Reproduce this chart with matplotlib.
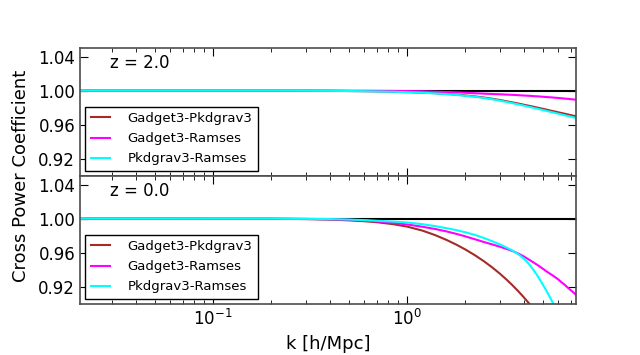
import matplotlib
matplotlib.use("Agg")
import matplotlib.pyplot as plt

k = [0.02, 0.05, 0.1, 0.15, 0.2, 0.3, 0.4, 0.5, 0.6, 0.7,
     0.85, 1.0, 1.2, 1.4, 1.6, 1.8, 2.0, 2.25, 2.5, 2.75,
     3.0, 3.25, 3.5, 3.75, 4.0, 4.25, 4.5, 4.75, 5.0, 5.25,
     5.5, 5.75, 6.0, 6.25, 6.5, 6.75, 7.0, 7.25, 7.5]

# z = 2.0
g_p_z2 = [1.0, 1.0, 1.0, 1.0, 1.0, 0.9999, 0.9998, 0.9996, 0.9994, 0.9992,
          0.9988, 0.9983, 0.9977, 0.9970, 0.9962, 0.9953, 0.9944, 0.9932, 0.9919, 0.9905,
          0.9891, 0.9876, 0.9862, 0.9849, 0.9835, 0.9823, 0.9811, 0.9799, 0.9788, 0.9777,
          0.9766, 0.9757, 0.9747, 0.9738, 0.9730, 0.9721, 0.9713, 0.9705, 0.9698]
g_r_z2 = [1.0, 1.0, 1.0, 1.0, 1.0, 1.0, 1.0, 0.9999, 0.9999, 0.9998,
          0.9997, 0.9995, 0.9992, 0.9988, 0.9984, 0.9980, 0.9975, 0.9970, 0.9965, 0.9961,
          0.9958, 0.9954, 0.9951, 0.9947, 0.9943, 0.9940, 0.9936, 0.9933, 0.9929, 0.9925,
          0.9922, 0.9918, 0.9915, 0.9911, 0.9907, 0.9904, 0.9900, 0.9897, 0.9893]
p_r_z2 = [1.0, 1.0, 1.0, 1.0, 1.0, 0.9999, 0.9998, 0.9996, 0.9994, 0.9991,
          0.9987, 0.9982, 0.9976, 0.9968, 0.9960, 0.9950, 0.9940, 0.9928, 0.9914, 0.9899,
          0.9884, 0.9868, 0.9853, 0.9839, 0.9825, 0.9811, 0.9798, 0.9786, 0.9774, 0.9762,
          0.9751, 0.9741, 0.9731, 0.9721, 0.9712, 0.9703, 0.9695, 0.9686, 0.9678]

# z = 0.0
g_p_z0 = [1.0, 1.0, 0.9999, 0.9999, 0.9998, 0.9995, 0.9989, 0.9980, 0.9970, 0.9958,
          0.9935, 0.9907, 0.9860, 0.9806, 0.9750, 0.9694, 0.9638, 0.9568, 0.9498, 0.9428,
          0.9358, 0.9288, 0.9218, 0.9148, 0.9078, 0.9008, 0.8938, 0.8868, 0.8798, 0.8728,
          0.8658, 0.8588, 0.8518, 0.8448, 0.8378, 0.8308, 0.8238, 0.8168, 0.8098]
g_r_z0 = [1.0, 1.0, 1.0, 1.0, 1.0, 0.9997, 0.9993, 0.9986, 0.9978, 0.9968,
          0.9950, 0.9932, 0.9905, 0.9878, 0.9850, 0.9821, 0.9792, 0.9757, 0.9725, 0.9698,
          0.9672, 0.9646, 0.9620, 0.9590, 0.9557, 0.9520, 0.9485, 0.9450, 0.9415, 0.9380,
          0.9350, 0.9320, 0.9290, 0.9255, 0.9225, 0.9190, 0.9160, 0.9130, 0.9100]
p_r_z0 = [1.0, 1.0, 1.0, 1.0, 1.0, 0.9998, 0.9995, 0.9990, 0.9983, 0.9975,
          0.9965, 0.9955, 0.9935, 0.9912, 0.9888, 0.9865, 0.9840, 0.9808, 0.9772, 0.9735,
          0.9700, 0.9662, 0.9625, 0.9582, 0.9532, 0.9470, 0.9395, 0.9315, 0.9232, 0.9148,
          0.9063, 0.8978, 0.8893, 0.8810, 0.8730, 0.8650, 0.8570, 0.8490, 0.8410]

labels = ["Gadget3-Pkdgrav3", "Gadget3-Ramses", "Pkdgrav3-Ramses"]
colors = ["#a52a2a", "#ff00ff", "#00ffff"]

fig = plt.figure(figsize=(6.4, 3.55), dpi=100)
ax1 = fig.add_axes([0.125, 0.5042, 0.775, 0.3606])
ax2 = fig.add_axes([0.125, 0.1437, 0.775, 0.3606], sharex=ax1)

panels = [(ax1, "z = 2.0", [g_p_z2, g_r_z2, p_r_z2]),
          (ax2, "z = 0.0", [g_p_z0, g_r_z0, p_r_z0])]

for ax, ztxt, series in panels:
    ax.plot(k, [1.0] * len(k), color="black", lw=1.5)
    for vals, lab, c in zip(series, labels, colors):
        ax.plot(k, vals, color=c, lw=1.5, label=lab)
    ax.set_xscale("log")
    ax.set_xlim(0.0206, 7.43)
    ax.set_ylim(0.90, 1.05)
    ax.set_yticks([0.92, 0.96, 1.00, 1.04])
    ax.set_yticklabels(["0.92", "0.96", "1.00", "1.04"])
    ax.tick_params(which="both", direction="in", top=True, right=True, labelsize=12)
    ax.tick_params(which="major", length=6)
    ax.tick_params(which="minor", length=3)
    for s in ax.spines.values():
        s.set_color("0.3")
        s.set_linewidth(1.2)
    ax.text(0.06, 0.88, ztxt, transform=ax.transAxes, fontsize=12, va="center")
    leg = ax.legend(loc="lower left", fontsize=9.5, frameon=True, fancybox=False,
                    borderaxespad=0.4, handlelength=1.5, handletextpad=1.3,
                    labelspacing=0.55)
    leg.get_frame().set_edgecolor("black")
    leg.get_frame().set_alpha(1.0)

ax1.tick_params(labelbottom=False)
ax2.set_xlabel("k [h/Mpc]", fontsize=13)
fig.text(0.033, 0.504, "Cross Power Coefficient", rotation=90, fontsize=13,
         va="center", ha="center")

fig.savefig("out.png", dpi=100)
